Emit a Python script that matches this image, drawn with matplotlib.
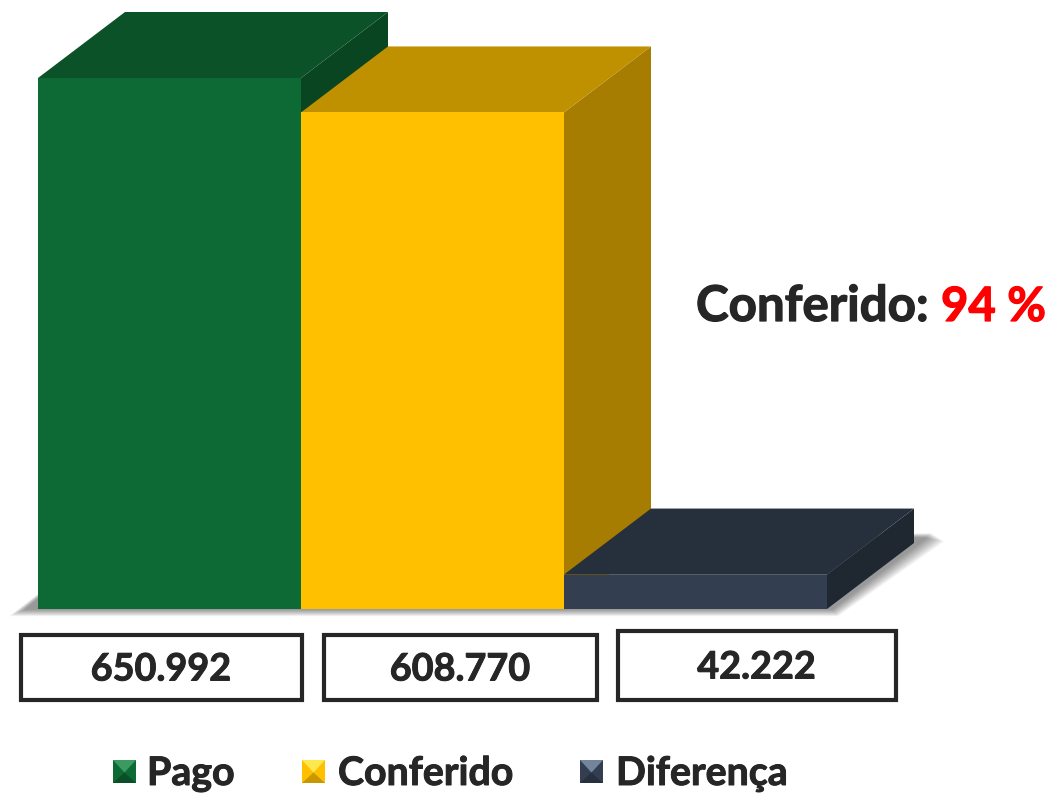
"""Pago / Conferido / Diferenca 3D style bars, with value boxes and legend."""

import matplotlib

matplotlib.use("Agg")
import matplotlib.patheffects as pe
import matplotlib.pyplot as plt
from matplotlib.patches import Polygon, Rectangle

W, H = 1051, 793

CATEGORIES = ["Pago", "Conferido", "Diferença"]
VALUES = [650992, 608770, 42222]
VALUE_LABELS = ["650.992", "608.770", "42.222"]
FRONT_COLORS = ["#0E6A34", "#FFC000", "#333F50"]
TOP_COLORS = ["#0C5228", "#BF9000", "#262F3C"]
SIDE_COLORS = ["#0A4522", "#A67D00", "#1F2731"]
LIGHT_COLORS = ["#3A9A62", "#FFE84D", "#74859B"]
DARK_COLORS = ["#0A4F27", "#C99700", "#27303E"]

TEXT_COLOR = "#262626"

# pixel layout of the bar area
LEFT, RIGHT, BASE, TOP = 38, 827, 609, 78
DEPTH_X_PX, DEPTH_Y_PX = 87, 66

BOXES = [(21, 635, 281, 65), (324, 635, 273, 65), (618, 631, 278, 69)]
LEGEND_X = [113, 302, 580]
LEGEND_TEXT_X = [147, 338, 616]

plt.rcParams["font.family"] = ["Lato", "DejaVu Sans"]
plt.rcParams["font.weight"] = "bold"


def heavy(width=0.7, color=TEXT_COLOR):
    return [pe.withStroke(linewidth=width, foreground=color)]


fig = plt.figure(figsize=(W / 100, H / 100), dpi=100)

# overlay in pixel coordinates for shadow, boxes, text and legend
bg = fig.add_axes([0, 0, 1, 1])
bg.set_xlim(0, W)
bg.set_ylim(H, 0)
bg.axis("off")

# soft floor shadow
for step in range(12):
    g = 12 - step
    bg.add_patch(Polygon(
        [(26 - g * 1.4, 609 + g * 0.6), (832 + g * 0.5, 609 + g * 0.6),
         (925 + g * 1.6, 538 + g * 0.3), (925 + g * 0.5, 538 - g * 0.4), (110, 538)],
        closed=True, facecolor="#000000", alpha=0.04, edgecolor="none", zorder=0,
    ))

ax = fig.add_axes([LEFT / W, (H - BASE) / H, (RIGHT - LEFT) / W, (BASE - TOP) / H])
ax.patch.set_alpha(0)
ax.set_xlim(0, len(VALUES))
ax.set_ylim(0, max(VALUES))
ax.axis("off")

depth_x = DEPTH_X_PX / ((RIGHT - LEFT) / len(VALUES))
depth_y = DEPTH_Y_PX / (BASE - TOP) * max(VALUES)

for i, v in enumerate(VALUES):
    z = 2 + i * 3
    ax.bar(i, v, width=1, align="edge", color=FRONT_COLORS[i], zorder=z + 2, clip_on=False)
    ax.add_patch(Polygon(
        [(i + 1, 0), (i + 1 + depth_x, depth_y), (i + 1 + depth_x, v + depth_y), (i + 1, v)],
        closed=True, facecolor=SIDE_COLORS[i], edgecolor="none", zorder=z, clip_on=False,
    ))
    ax.add_patch(Polygon(
        [(i, v), (i + depth_x, v + depth_y), (i + 1 + depth_x, v + depth_y), (i + 1, v)],
        closed=True, facecolor=TOP_COLORS[i], edgecolor="none", zorder=z + 1, clip_on=False,
    ))

# value boxes
for (x, y, w, h), label in zip(BOXES, VALUE_LABELS):
    bg.add_patch(Rectangle((x, y), w, h, facecolor="white", edgecolor=TEXT_COLOR, linewidth=3))
    bg.text(x + w / 2 - 0.5, y + h / 2 + 2, label, ha="center", va="center",
            fontsize=27.2, color=TEXT_COLOR, path_effects=heavy())

# annotation
bg.text(696, 321, "Conferido:", fontsize=35.5, color=TEXT_COLOR, ha="left", va="baseline",
        path_effects=heavy(0.9))
bg.text(941, 321, "94 %", fontsize=34, color="#FF0000", ha="left", va="baseline",
        path_effects=heavy(0.9, "#FF0000"))

# legend with pyramid squares
size = 23
for i, (x, name) in enumerate(zip(LEGEND_X, CATEGORIES)):
    y = 760
    cx, cy = x + size / 2, y + size / 2 + 1
    bg.add_patch(Rectangle((x, y), size, size, facecolor=FRONT_COLORS[i], edgecolor="none"))
    bg.add_patch(Polygon([(x, y), (x + size, y), (cx, cy)], closed=True,
                         facecolor=LIGHT_COLORS[i], edgecolor="none"))
    bg.add_patch(Polygon([(x, y + size), (x + size, y + size), (cx, cy)], closed=True,
                         facecolor=DARK_COLORS[i], edgecolor="none"))
    bg.text(LEGEND_TEXT_X[i], 785, name, fontsize=28.3, color=TEXT_COLOR, ha="left", va="baseline",
            path_effects=heavy())

fig.savefig("out.png", dpi=100, facecolor="white")
